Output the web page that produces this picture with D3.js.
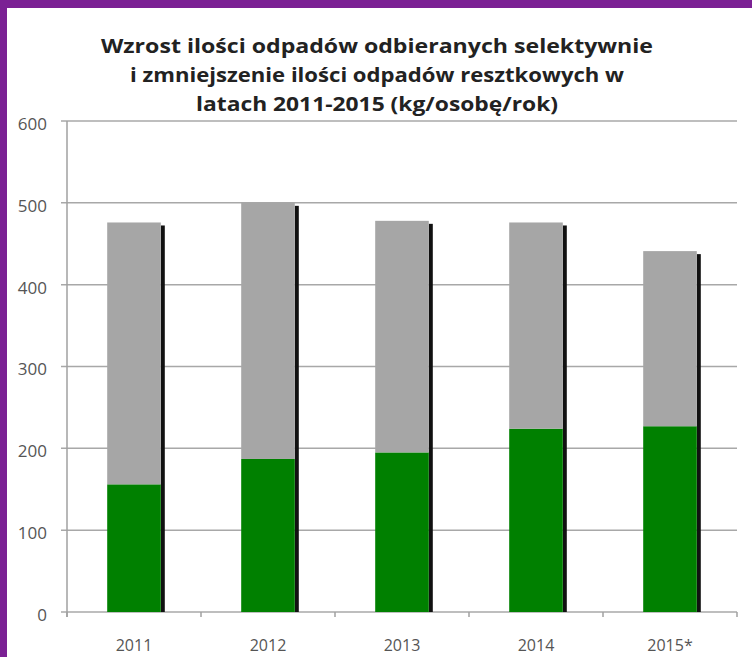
<!DOCTYPE html>
<html>
<head>
<meta charset="utf-8">
<title>Odpady 2011-2015</title>
<script src="https://d3js.org/d3.v7.min.js"></script>
<style>
  body { margin: 0; background: #fff; }
  svg { display: block; }
</style>
</head>
<body>
<div id="chart"></div>
<script>
// data (kg per person per year)
var years = ["2011", "2012", "2013", "2014", "2015*"];
var selective = [156, 187, 195, 224, 227];   // green, lower part
var residual = [320, 313, 283, 252, 214];    // grey, upper part
var yTicks = [0, 100, 200, 300, 400, 500, 600];
var titleLines = [
  "Wzrost ilości odpadów odbieranych selektywnie",
  "i zmniejszenie ilości odpadów resztkowych w",
  "latach 2011-2015 (kg/osobę/rok)"
];

var W = 752, H = 657;
var svg = d3.select("#chart").append("svg").attr("width", W).attr("height", H);

// purple frame on top and left
svg.append("rect").attr("x", 0).attr("y", 0).attr("width", W).attr("height", H).attr("fill", "#7b2194");
svg.append("rect").attr("x", 7).attr("y", 8).attr("width", W - 7).attr("height", H - 8).attr("fill", "#ffffff");

var x = d3.scaleBand().domain(years).range([67, 737]).paddingInner(0.6).paddingOuter(0.3);
var y = d3.scaleLinear().domain([0, 600]).range([612, 121]);

var rows = years.map(function (yr, i) {
  return { year: yr, selective: selective[i], residual: residual[i] };
});
var stack = d3.stack().keys(["selective", "residual"])(rows);
var colors = { selective: "#008000", residual: "#a6a6a6" };

// gridlines
svg.append("g").selectAll("line").data(yTicks).enter().append("line")
  .attr("x1", 61).attr("x2", 737)
  .attr("y1", function (d) { return y(d); }).attr("y2", function (d) { return y(d); })
  .attr("stroke", "#a8a8a8").attr("stroke-width", 1.5);

// y labels
svg.append("g").selectAll("text").data(yTicks).enter().append("text")
  .attr("x", 47).attr("y", function (d) { return y(d) + 3; })
  .attr("dy", "0.35em").attr("text-anchor", "end")
  .style("font-family", "'Open Sans', sans-serif").style("font-size", "17px")
  .attr("fill", "#555")
  .text(function (d) { return d; });

// vertical axis line
svg.append("line").attr("x1", 67).attr("x2", 67).attr("y1", y(600)).attr("y2", y(0) + 5)
  .attr("stroke", "#a0a0a0").attr("stroke-width", 1.5);

// x tick marks at category boundaries
var bounds = [67].concat(years.map(function (d) { return x(d) - x.step() * x.paddingInner() / 2 + x.step(); }));
svg.append("g").selectAll("line").data(bounds).enter().append("line")
  .attr("x1", function (d) { return d; }).attr("x2", function (d) { return d; })
  .attr("y1", y(0)).attr("y2", y(0) + 5)
  .attr("stroke", "#a0a0a0").attr("stroke-width", 1.5);

// shadow on the right of each bar
svg.append("g").selectAll("rect").data(rows).enter().append("rect")
  .attr("x", function (d) { return x(d.year) + x.bandwidth(); })
  .attr("y", function (d) { return y(d.selective + d.residual) + 3; })
  .attr("width", 4)
  .attr("height", function (d) { return y(0) - y(d.selective + d.residual) - 3; })
  .attr("fill", "#111");

// stacked bars
svg.append("g").selectAll("g").data(stack).enter().append("g")
  .attr("fill", function (s) { return colors[s.key]; })
  .selectAll("rect").data(function (s) { return s; }).enter().append("rect")
  .attr("x", function (d) { return x(d.data.year); })
  .attr("y", function (d) { return y(d[1]); })
  .attr("width", x.bandwidth())
  .attr("height", function (d) { return y(d[0]) - y(d[1]); });

// x labels, kept just inside the bottom edge
svg.append("g").selectAll("text").data(years).enter().append("text")
  .attr("x", function (d) { return x(d) + x.bandwidth() / 2; })
  .attr("y", 651)
  .attr("text-anchor", "middle")
  .style("font-family", "'Open Sans', sans-serif").style("font-size", "16px")
  .attr("fill", "#555")
  .text(function (d) { return d; });

// title
var titleWidths = [552, 494, 362];
svg.append("g").selectAll("text").data(titleLines).enter().append("text")
  .attr("x", 377).attr("y", function (d, i) { return 53 + i * 29; })
  .attr("text-anchor", "middle")
  .attr("textLength", function (d, i) { return titleWidths[i]; })
  .attr("lengthAdjust", "spacingAndGlyphs")
  .style("font-family", "'Open Sans', sans-serif").style("font-weight", "bold").style("font-size", "20px")
  .attr("fill", "#222")
  .text(function (d) { return d; });
</script>
</body>
</html>
